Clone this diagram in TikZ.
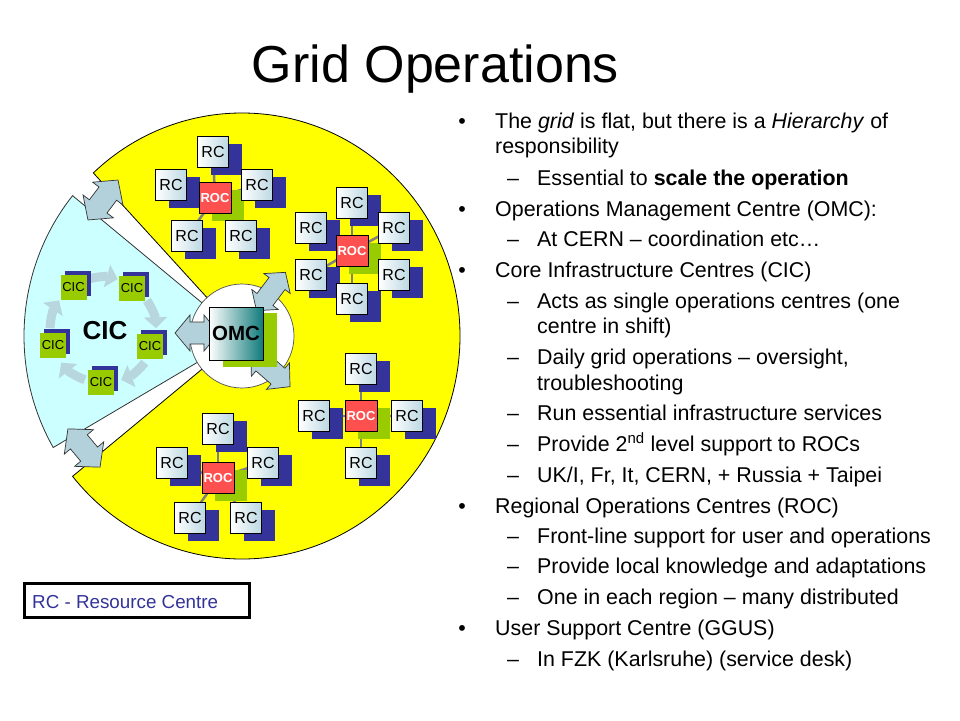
\documentclass[tikz,border=0pt]{standalone}
\usepackage{fontspec}
\setmainfont{Liberation Sans}
\usetikzlibrary{arrows.meta}
\definecolor{yel}{RGB}{255,255,0}
\definecolor{cicbg}{RGB}{204,255,255}
\definecolor{arrfill}{RGB}{178,209,218}
\definecolor{cicarrcol}{RGB}{184,214,222}
\definecolor{navy}{RGB}{51,51,153}
\definecolor{lime}{RGB}{153,204,0}
\definecolor{rocred}{RGB}{255,80,80}
\definecolor{rcblue}{RGB}{188,216,226}
\definecolor{tealomc}{RGB}{16,122,122}
\definecolor{conngray}{RGB}{128,128,128}
\newcommand{\myfs}[1]{\fontsize{#1pt}{#1pt}\selectfont}
\newcommand{\dblarrow}[7]{%
\begin{scope}[shift={(#1,#2)},rotate=#3]
\draw[blockarrow] ({-#4/2},0) -- ({-#4/2+#7},{-#5/2}) -- ({-#4/2+#7},{-#6/2}) -- ({#4/2-#7},{-#6/2}) -- ({#4/2-#7},{-#5/2}) -- ({#4/2},0) -- ({#4/2-#7},{#5/2}) -- ({#4/2-#7},{#6/2}) -- ({-#4/2+#7},{#6/2}) -- ({-#4/2+#7},{#5/2}) -- cycle;
\end{scope}}
\begin{document}
\begin{tikzpicture}[x=1pt,y=-1pt,
  blockarrow/.style={fill=arrfill, draw=black!80, line width=0.7pt, line join=miter},
  cicarr/.style={draw=cicarrcol, line width=9pt, -{Triangle[length=11pt,width=23pt]}},
  rc/.style={draw=black, line width=0.8pt, left color=white, right color=rcblue, minimum width=31pt, minimum height=31pt, inner sep=0pt, font=\myfs{16}},
  rcshadow/.style={fill=navy, minimum width=31pt, minimum height=31pt, inner sep=0pt},
  roc/.style={draw=black, line width=0.6pt, fill=rocred, text=white, minimum width=32pt, minimum height=31pt, inner sep=0pt, font=\bfseries\myfs{13}},
  rocshadow/.style={fill=lime, minimum width=32pt, minimum height=31pt, inner sep=0pt},
  conn/.style={draw=conngray, line width=2.5pt},
  cicbox/.style={fill=lime, minimum width=26pt, minimum height=25pt, inner sep=0pt, font=\myfs{13}},
  cicshadow/.style={fill=navy, minimum width=26pt, minimum height=25pt, inner sep=0pt},
  omcbox/.style={draw=black, line width=0.8pt, left color=white, right color=tealomc, minimum width=54pt, minimum height=53pt, inner sep=0pt, font=\bfseries\myfs{20.5}},
  txt/.style={anchor=base west, inner sep=0pt, font=\myfs{21.4}},
  bul/.style={anchor=base, inner sep=0pt, font=\myfs{21.4}}
]
\useasboundingbox[fill=white] (0,0) rectangle (960,720);

% sectors
\coordinate (C) at (242,336);
\filldraw[fill=yel, draw=black, line width=0.8pt] (C) -- ++(227:218 and 223) arc[start angle=227, end angle=501, x radius=218, y radius=223] -- cycle;
\filldraw[fill=cicbg, draw=black!80, line width=0.8pt] (C) -- ++(150:218 and 223) arc[start angle=150, end angle=219, x radius=218, y radius=223] -- cycle;
\filldraw[fill=white, draw=black!70, line width=0.7pt] (C) circle[radius=52];

% CIC ring
\coordinate (cc) at (103,330);
\foreach \a in {-90,-18,54,126,198}
  \draw[cicarr] ([shift={(\a-16:53)}]cc) arc[start angle=\a-16, end angle=\a+16, radius=53];
\foreach \n/\x/\y in {1/73.5/287.5, 2/132/288, 3/150/346, 4/101/382, 5/53/345} {
  \node[cicshadow] at ({\x+4},{\y-4}) {};
  \node[cicbox] (cic\n) at (\x,\y) {CIC};
}
\node[font=\bfseries\myfs{26}, inner sep=0pt] (ciclabel) at (105,331) {CIC};

% gap arrows
\dblarrow{103}{200}{53}{50}{38}{22}{17}
\dblarrow{84}{448}{-50}{50}{38}{22}{17}

% OMC arrows
\dblarrow{197}{333}{0}{44}{36}{22}{15}
\dblarrow{271}{291.5}{53}{48}{33}{20}{14}
\dblarrow{270.4}{369.6}{-41}{52}{35}{21}{16}

% OMC
\node[fill=lime, minimum width=54pt, minimum height=54pt, inner sep=0pt] (omcshadow) at (250,340) {};
\node[omcbox] (omc) at (236,333.5) {OMC};

% Cluster A
\coordinate (A) at (215,198);
\foreach \i/\x/\y in {1/213/152, 2/171/185, 3/257/185, 4/187/236, 5/241/236} \coordinate (A\i) at (\x,\y);
\foreach \i in {1,...,5} \draw[conn] (A) -- (A\i);
\foreach \i in {1,...,5} \node[rcshadow] at ([shift={(13,7)}]A\i) {};
\node[rocshadow] at ([shift={(13,7)}]A) {};
\foreach \i in {1,...,5} \node[rc] (rcA\i) at (A\i) {RC};
\node[roc] (rocA) at (A) {ROC};

% Cluster B
\coordinate (B) at (352,251);
\foreach \i/\x/\y in {1/352/203, 2/311/228, 3/394/228, 4/311/275, 5/394/275, 6/352/299} \coordinate (B\i) at (\x,\y);
\foreach \i in {1,...,6} \draw[conn] (B) -- (B\i);
\foreach \i in {1,...,6} \node[rcshadow] at ([shift={(13,7)}]B\i) {};
\node[rocshadow] at ([shift={(13,7)}]B) {};
\foreach \i in {1,...,6} \node[rc] (rcB\i) at (B\i) {RC};
\node[roc] (rocB) at (B) {ROC};

% Cluster C
\coordinate (D) at (361,416);
\foreach \i/\x/\y in {1/361/369, 2/314/416, 3/407/416, 4/361/463} \coordinate (D\i) at (\x,\y);
\foreach \i in {1,...,4} \draw[conn] (D) -- (D\i);
\foreach \i in {1,...,4} \node[rcshadow] at ([shift={(13,7)}]D\i) {};
\node[rocshadow] at ([shift={(13,7)}]D) {};
\foreach \i in {1,...,4} \node[rc] (rcD\i) at (D\i) {RC};
\node[roc] (rocD) at (D) {ROC};

% Cluster D
\coordinate (E) at (218,478);
\foreach \i/\x/\y in {1/218/429, 2/172/463, 3/263/463, 4/190/518, 5/246/518} \coordinate (E\i) at (\x,\y);
\foreach \i in {1,...,5} \draw[conn] (E) -- (E\i);
\foreach \i in {1,...,5} \node[rcshadow] at ([shift={(13,7)}]E\i) {};
\node[rocshadow] at ([shift={(13,7)}]E) {};
\foreach \i in {1,...,5} \node[rc] (rcE\i) at (E\i) {RC};
\node[roc] (rocE) at (E) {ROC};

% legend
\node[draw=black, line width=3pt, minimum width=225pt, minimum height=34pt, inner sep=0pt] (legend) at (137,600.5) {};
\node[anchor=base west, inner sep=0pt, text=navy, font=\myfs{18.8}] (legendtext) at (32,608) {RC - Resource Centre};

% title
\node[anchor=base, inner sep=0pt, font=\myfs{52}] (title) at (435.5,82.5) {Grid Operations};

% bullets
\node[bul] (b1) at (462,128.5) {•};
\node[txt] (t1) at (495,128.5) {The \textit{grid} is flat, but there is a \textit{Hierarchy} of};
\node[txt] (t1b) at (495,153) {responsibility};
\node[txt] (d1) at (507,185) {–};
\node[txt] (t2) at (537,185) {Essential to \textbf{scale the operation}};
\node[bul] (b2) at (462,216) {•};
\node[txt] (t3) at (495,216) {Operations Management Centre (OMC):};
\node[txt] (d2) at (507,246.5) {–};
\node[txt] (t4) at (537,246.5) {At CERN – coordination etc…};
\node[bul] (b3) at (462,277) {•};
\node[txt] (t5) at (495,277) {Core Infrastructure Centres (CIC)};
\node[txt] (d3) at (507,308) {–};
\node[txt] (t6) at (537,308) {Acts as single operations centres (one};
\node[txt] (t6b) at (537,333) {centre in shift)};
\node[txt] (d4) at (507,364.5) {–};
\node[txt] (t7) at (537,364.5) {Daily grid operations – oversight,};
\node[txt] (t7b) at (537,390) {troubleshooting};
\node[txt] (d5) at (507,420.5) {–};
\node[txt] (t8) at (537,420.5) {Run essential infrastructure services};
\node[txt] (d6) at (507,451) {–};
\node[txt] (t9) at (537,451) {Provide 2\textsuperscript{nd} level support to ROCs};
\node[txt] (d7) at (507,482) {–};
\node[txt] (t10) at (537,482) {UK/I, Fr, It, CERN, + Russia + Taipei};
\node[bul] (b4) at (462,513) {•};
\node[txt] (t11) at (495,513) {Regional Operations Centres (ROC)};
\node[txt] (d8) at (507,543) {–};
\node[txt] (t12) at (537,543) {Front-line support for user and operations};
\node[txt] (d9) at (507,573.5) {–};
\node[txt] (t13) at (537,573.5) {Provide local knowledge and adaptations};
\node[txt] (d10) at (507,604) {–};
\node[txt] (t14) at (537,604) {One in each region – many distributed};
\node[bul] (b5) at (462,635) {•};
\node[txt] (t15) at (495,635) {User Support Centre (GGUS)};
\node[txt] (d11) at (507,666) {–};
\node[txt] (t16) at (537,666) {In FZK (Karlsruhe) (service desk)};
\end{tikzpicture}
\end{document}
